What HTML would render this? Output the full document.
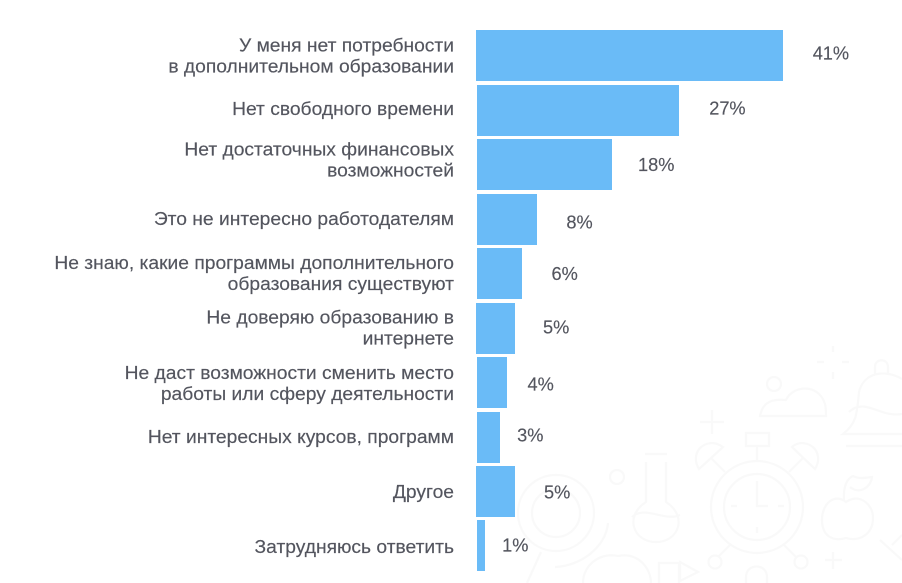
<!DOCTYPE html>
<html lang="ru">
<head>
<meta charset="utf-8">
<title>Причины отказа от дополнительного образования</title>
<style>
  html, body { margin: 0; padding: 0; background: #fff; }
  #chart { display: block; width: 902px; height: 583px; overflow: hidden; }
  .cat { font: 18px "Liberation Sans", "Noto Sans CJK JP", sans-serif; fill: #53555e; text-anchor: end; stroke: #53555e; stroke-width: 0.15; }
  .val { font: 18.2px "Liberation Sans", "Noto Sans CJK JP", sans-serif; fill: #53555e; stroke: #53555e; stroke-width: 0.15; }
  #decor * { fill: none; stroke: #f9f9f9; stroke-width: 2.2; }
</style>
</head>
<body>
<svg id="chart" xmlns="http://www.w3.org/2000/svg" width="902" height="583" viewBox="0 0 902 583">
  <g id="decor">
    <g>
      <circle cx="757" cy="507" r="46"/>
      <circle cx="757" cy="507" r="33"/>
      <path d="M757 481V506H768M731 506H737M778 506H784M757 527V533"/>
      <rect x="746" y="433" width="23" height="13"/>
      <path d="M757 446V460M725 472L711 458M789 472L803 458"/>
      <path d="M699 469C692 458 697 444 712 443C716 443 720 445 723 447Z"/>
      <path d="M815 469C822 458 817 444 802 443C798 443 794 445 792 447Z"/>
      <path d="M731 544L718 557M783 544L796 557"/>
      <circle cx="715" cy="562" r="6.5"/>
      <circle cx="801" cy="562" r="6.5"/>
      <path d="M746 583V577C746 563 767 563 767 577V583"/>
    </g>
    <g>
      <circle cx="556" cy="513" r="38"/>
      <circle cx="556" cy="513" r="24"/>
      <path d="M608 523C606 547 581 566 555 567M541 552L527 583"/>
    </g>
    <g>
      <path d="M645 454H667M646 462V502C624 516 633 542 656 542C679 542 688 516 666 502V462"/>
      <path d="M632 517C645 505 665 522 680 515"/>
      <circle cx="617" cy="477" r="7"/>
    </g>
    <g>
      <path d="M846 502C835 493 822 503 822 520C822 536 833 542 846 538C860 542 873 534 873 518C873 503 858 493 846 502Z"/>
      <path d="M844 500C843 485 848 478 853 476C859 479 864 478 872 477C871 487 860 495 850 487"/>
    </g>
    <g>
      <path d="M875 375V367C875 358 888 358 888 367V375"/>
      <path d="M902 379C885 369 864 372 859 392C857 415 856 424 843 434H902"/>
      <path d="M849 412C865 397 880 418 902 414M846 446H902"/>
    </g>
    <g>
      <path d="M760 416C763 400 775 399 786 400C792 386 818 382 825 404C826 408 826 412 826 416Z"/>
      <circle cx="774" cy="384" r="7"/>
    </g>
    <g>
      <path d="M700 422H724M712 410V434"/>
      <path d="M817 362H824M842 362H849M833 346V352M833 372V379"/>
      <path d="M825 560H842M833 552V569"/>
      <path d="M880 540L902 560M902 535L892 545"/>
      <path d="M659 583V563H679V583"/>
      <path d="M680 562L698 572L680 581Z"/>
    </g>
    <path d="M583 583C583 565 600 552 618 556C640 552 651 570 651 583"/>
  </g>
  <g id="bars"></g>
  <g id="categories"></g>
  <g id="values"></g>
</svg>
<script>
const categories = [
  "У меня нет потребности\nв дополнительном образовании",
  "Нет свободного времени",
  "Нет достаточных финансовых\nвозможностей",
  "Это не интересно работодателям",
  "Не знаю, какие программы дополнительного\nобразования существуют",
  "Не доверяю образованию в\nинтернете",
  "Не даст возможности сменить место\nработы или сферу деятельности",
  "Нет интересных курсов, программ",
  "Другое",
  "Затрудняюсь ответить"
];
const shares = [41, 27, 18, 8, 6, 5, 4, 3, 5, 1];

// Hand-placement quirks of the source artwork (layout, not data).
const barLeftNudge = [-1, 0, 0, 0, 0, -1, 0, 0, -1, 0];
const valueGapNudge = [0, 1, -3, 0, 0, -1, -9, -12, 0, -12];
const valueDyNudge = [-2.5, -2.5, 0, 2.5, 0, -1.5, 1.5, -2.5, 0.5, -0.5];
const catDyNudge = [1, -1, -4, 0, 0.5, 0, 1.5, 0, 1, 2];

const SVG_NS = "http://www.w3.org/2000/svg";
const x0 = 477, pxPerPercent = 306 / 41, top0 = 30.45, step = 54.44, barH = 51;
const catRight = 454, catStretch = 1.07;
const xScale = v => x0 + v * pxPerPercent;
const yScale = i => Math.round(top0 + i * step);

const barsG = document.getElementById("bars");
const catsG = document.getElementById("categories");
const valsG = document.getElementById("values");

shares.forEach((v, i) => {
  const top = yScale(i), mid = top + barH / 2, right = xScale(v);

  const r = document.createElementNS(SVG_NS, "rect");
  
  
  r.setAttribute("x", x0 + barLeftNudge[i]);
  r.setAttribute("y", top);
  r.setAttribute("width", Math.round(right + 0.4) - x0 - barLeftNudge[i]);
  r.setAttribute("height", barH);
  r.setAttribute("fill", "#6abbf7");
  barsG.appendChild(r);

  const lines = categories[i].split("\n");
  const lh = 21;
  const base = mid + 5.5 + catDyNudge[i] - (lines.length - 1) * lh / 2;
  lines.forEach((line, k) => {
    const t = document.createElementNS(SVG_NS, "text");
    
    
    t.setAttribute("class", "cat");
    t.setAttribute("transform", "translate(" + catRight + " " + (base + k * lh) + ") scale(" + catStretch + " 1)");
    t.textContent = line;
    catsG.appendChild(t);
  });

  const t = document.createElementNS(SVG_NS, "text");
  
  
  t.setAttribute("class", "val");
  t.setAttribute("x", right + 29.7 + valueGapNudge[i]);
  t.setAttribute("y", mid + 6.5 + valueDyNudge[i]);
  t.textContent = v + "%";
  valsG.appendChild(t);
});
</script>
</body>
</html>
